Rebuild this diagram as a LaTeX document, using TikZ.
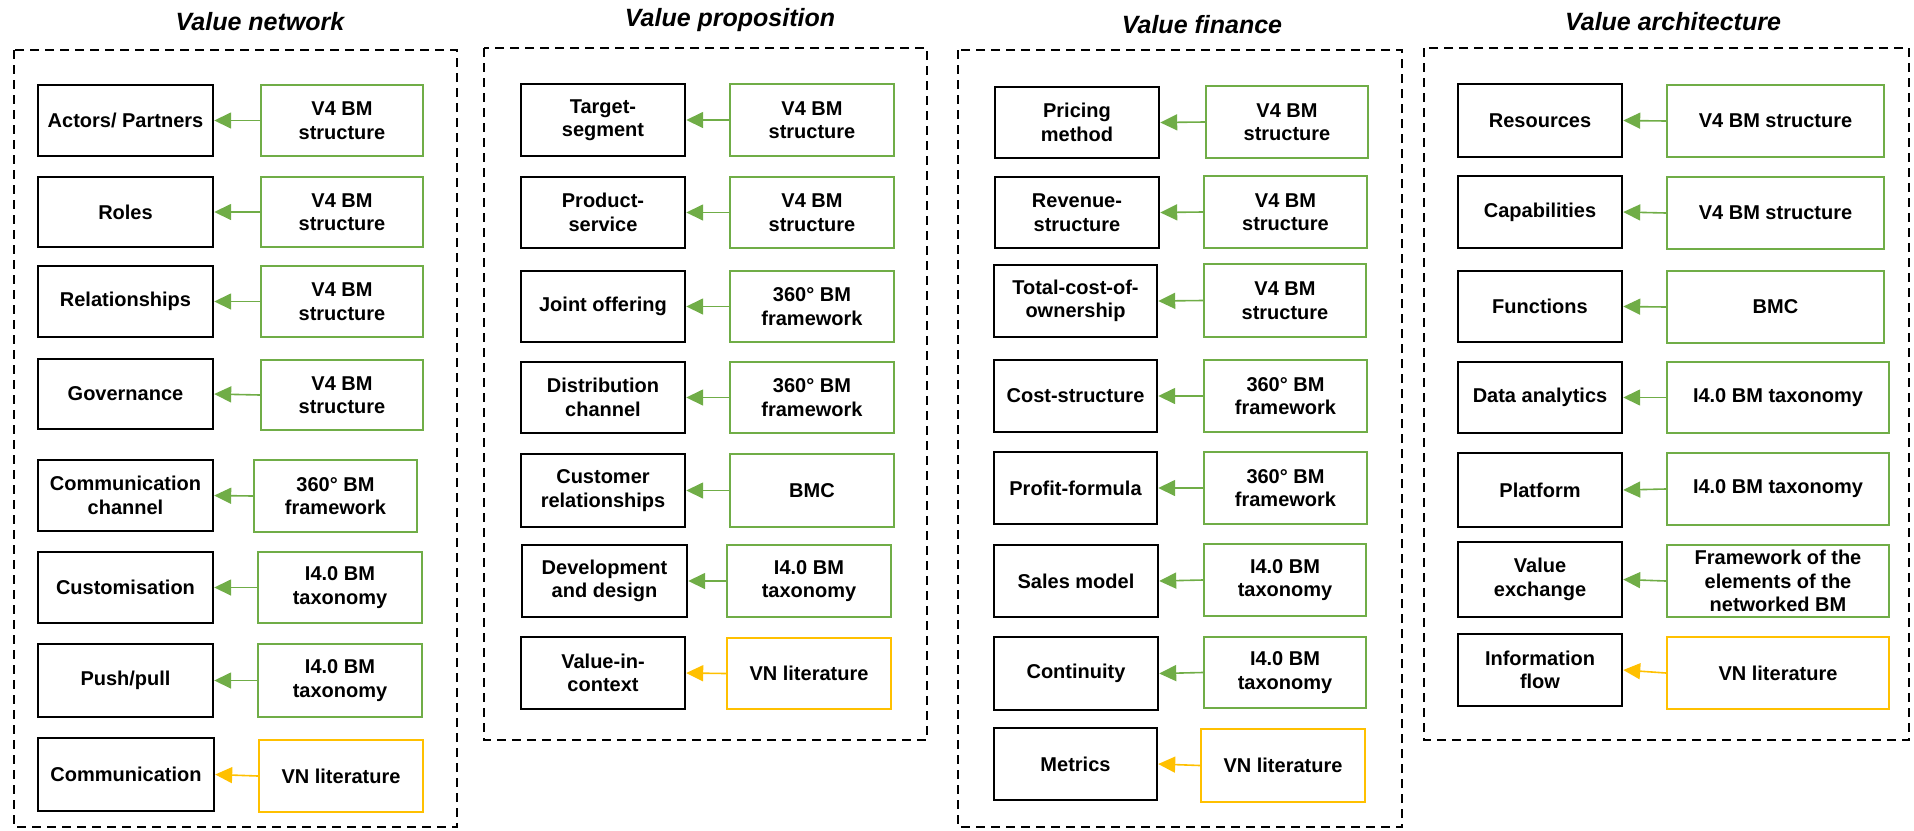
\documentclass[tikz,border=0pt]{standalone}
\usepackage{fontspec}
\setmainfont{Liberation Sans}
\usetikzlibrary{arrows.meta}

\definecolor{srcgreen}{HTML}{70AD47}
\definecolor{srcyellow}{HTML}{FFC000}

\newcommand{\elemfont}{\bfseries\fontsize{20}{23.5}\selectfont}
\newcommand{\titlefont}{\bfseries\itshape\fontsize{25}{30}\selectfont}

% \boxat{style}{name}{x1}{x2}{y1}{y2}{text}: box given by its border corners
\newcommand{\boxat}[7]{%
  \node[#1, minimum width={#4-#3}, minimum height={#6-#5}] (#2)
    at ({(#3+#4)/2},{(#5+#6)/2}) {#7};}

\tikzset{
  basebox/.style={align=center, inner sep=0pt, font=\elemfont, text=black},
  elembox/.style={basebox, draw=black, line width=2.4pt},
  greenbox/.style={basebox, draw=srcgreen, line width=2.2pt},
  yellowbox/.style={basebox, draw=srcyellow, line width=2.2pt},
  greenlink/.style={draw=srcgreen, line width=1.6pt, -{Triangle[length=17pt,width=16pt]}},
  yellowlink/.style={draw=srcyellow, line width=1.6pt, -{Triangle[length=17pt,width=16pt]}},
  frame/.style={draw=black, line width=2.4pt, dash pattern=on 9pt off 6pt},
  paneltitle/.style={font=\titlefont, inner sep=0pt}
}

\begin{document}
\begin{tikzpicture}[x=1pt, y=-1pt]
\useasboundingbox (0,0) rectangle (1914,830);

% ---------------- Value network ----------------
\node[paneltitle] (tvn) at (260,22) {Value network};
\draw[frame] (14,50) rectangle (457,827);
\boxat{elembox}{vn1}{38}{213}{85}{156}{Actors/ Partners}
\boxat{greenbox}{vs1}{261}{423}{85}{156}{V4 BM\\structure}
\boxat{elembox}{vn2}{38}{213}{177}{247}{Roles}
\boxat{greenbox}{vs2}{261}{423}{177}{247}{V4 BM\\structure}
\boxat{elembox}{vn3}{38}{213}{266}{337}{Relationships}
\boxat{greenbox}{vs3}{261}{423}{266}{337}{V4 BM\\structure}
\boxat{elembox}{vn4}{38}{213}{359}{429}{Governance}
\boxat{greenbox}{vs4}{261}{423}{360}{430}{V4 BM\\structure}
\boxat{elembox}{vn5}{38}{213}{460}{531}{Communication\\channel}
\boxat{greenbox}{vs5}{254}{417}{460}{532}{360° BM\\framework}
\boxat{elembox}{vn6}{38}{213}{552}{623}{Customisation}
\boxat{greenbox}{vs6}{258}{422}{552}{623}{I4.0 BM\\taxonomy}
\boxat{elembox}{vn7}{38}{213}{644}{717}{Push/pull}
\boxat{greenbox}{vs7}{258}{422}{644}{717}{I4.0 BM\\taxonomy}
\boxat{elembox}{vn8}{38}{214}{738}{811}{Communication}
\boxat{yellowbox}{vs8}{259}{423}{740}{812}{VN literature}
\foreach \i in {1,...,7} {\draw[greenlink] (vs\i.west) -- (vn\i.east);}
\draw[yellowlink] (vs8.west) -- (vn8.east);

% ---------------- Value proposition ----------------
\node[paneltitle] (tvp) at (730,20) {Value proposition};
\draw[frame] (484,48) rectangle (927,740);
\boxat{elembox}{vp1}{521}{685}{84}{156}{Target-\\segment}
\boxat{greenbox}{ps1}{730}{894}{84}{156}{V4 BM\\structure}
\boxat{elembox}{vp2}{521}{685}{177}{248}{Product-\\service}
\boxat{greenbox}{ps2}{730}{894}{177}{248}{V4 BM\\structure}
\boxat{elembox}{vp3}{521}{685}{271}{342}{Joint offering}
\boxat{greenbox}{ps3}{730}{894}{271}{342}{360° BM\\framework}
\boxat{elembox}{vp4}{521}{685}{362}{433}{Distribution\\channel}
\boxat{greenbox}{ps4}{730}{894}{362}{433}{360° BM\\framework}
\boxat{elembox}{vp5}{521}{685}{454}{527}{Customer\\relationships}
\boxat{greenbox}{ps5}{730}{894}{454}{527}{BMC}
\boxat{elembox}{vp6}{522}{687}{545}{617}{Development\\and design}
\boxat{greenbox}{ps6}{727}{891}{545}{617}{I4.0 BM\\taxonomy}
\boxat{elembox}{vp7}{521}{685}{637}{709}{Value-in-\\context}
\boxat{yellowbox}{ps7}{727}{891}{638}{709}{VN literature}
\foreach \i in {1,...,6} {\draw[greenlink] (ps\i.west) -- (vp\i.east);}
\draw[yellowlink] (ps7.west) -- (vp7.east);

% ---------------- Value finance ----------------
\node[paneltitle] (tvf) at (1202,25) {Value finance};
\draw[frame] (958,50) rectangle (1402,827);
\boxat{elembox}{vf1}{995}{1159}{87}{158}{Pricing\\method}
\boxat{greenbox}{fs1}{1206}{1368}{86}{158}{V4 BM\\structure}
\boxat{elembox}{vf2}{995}{1159}{177}{248}{Revenue-\\structure}
\boxat{greenbox}{fs2}{1204}{1367}{176}{248}{V4 BM\\structure}
\boxat{elembox}{vf3}{994}{1157}{265}{337}{Total-cost-of-\\ownership}
\boxat{greenbox}{fs3}{1204}{1366}{264}{337}{V4 BM\\structure}
\boxat{elembox}{vf4}{994}{1157}{360}{432}{Cost-structure}
\boxat{greenbox}{fs4}{1204}{1367}{360}{432}{360° BM\\framework}
\boxat{elembox}{vf5}{994}{1157}{452}{524}{Profit-formula}
\boxat{greenbox}{fs5}{1204}{1367}{452}{524}{360° BM\\framework}
\boxat{elembox}{vf6}{994}{1158}{545}{617}{Sales model}
\boxat{greenbox}{fs6}{1204}{1366}{544}{616}{I4.0 BM\\taxonomy}
\boxat{elembox}{vf7}{994}{1158}{637}{710}{Continuity}
\boxat{greenbox}{fs7}{1204}{1366}{637}{708}{I4.0 BM\\taxonomy}
\boxat{elembox}{vf8}{994}{1157}{728}{800}{Metrics}
\boxat{yellowbox}{fs8}{1201}{1365}{729}{802}{VN literature}
\foreach \i in {1,...,7} {\draw[greenlink] (fs\i.west) -- (vf\i.east);}
\draw[yellowlink] (fs8.west) -- (vf8.east);

% ---------------- Value architecture ----------------
\node[paneltitle] (tva) at (1673,22) {Value architecture};
\draw[frame] (1424,48) rectangle (1909,740);
\boxat{elembox}{va1}{1458}{1622}{84}{157}{Resources}
\boxat{greenbox}{as1}{1667}{1884}{85}{157}{V4 BM structure}
\boxat{elembox}{va2}{1458}{1622}{176}{248}{Capabilities}
\boxat{greenbox}{as2}{1667}{1884}{177}{249}{V4 BM structure}
\boxat{elembox}{va3}{1458}{1622}{271}{342}{Functions}
\boxat{greenbox}{as3}{1667}{1884}{271}{343}{BMC}
\boxat{elembox}{va4}{1458}{1622}{362}{433}{Data analytics}
\boxat{greenbox}{as4}{1667}{1889}{362}{433}{I4.0 BM taxonomy}
\boxat{elembox}{va5}{1458}{1622}{453}{527}{Platform}
\boxat{greenbox}{as5}{1667}{1889}{453}{525}{I4.0 BM taxonomy}
\boxat{elembox}{va6}{1458}{1622}{542}{617}{Value\\exchange}
\boxat{greenbox}{as6}{1667}{1889}{545}{617}{Framework of the\\elements of the\\networked BM}
\boxat{elembox}{va7}{1458}{1622}{634}{706}{Information\\flow}
\boxat{yellowbox}{as7}{1667}{1889}{637}{709}{VN literature}
\foreach \i in {1,...,6} {\draw[greenlink] (as\i.west) -- (va\i.east);}
\draw[yellowlink] (as7.west) -- (va7.east);

\end{tikzpicture}
\end{document}
